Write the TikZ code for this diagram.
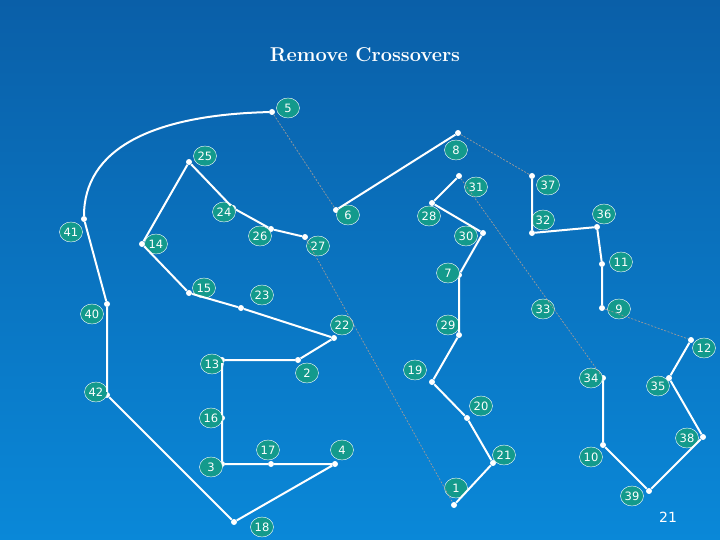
\documentclass[tikz,border=0pt]{standalone}
\usepackage{fontspec}
\setsansfont{DejaVu Sans}
\usetikzlibrary{shapes.geometric}
\definecolor{bgtop}{HTML}{0A5FA8}
\definecolor{bgbot}{HTML}{0A88D8}
\definecolor{lab}{HTML}{139A8C}
\begin{document}
\begin{tikzpicture}[x=1pt,y=-1pt,
  pt/.style={circle,fill=white,inner sep=0pt,minimum size=6pt},
  lb/.style={ellipse,draw=white,fill=lab,text=white,inner sep=0pt,minimum width=23pt,minimum height=20pt,font=\sffamily\fontsize{11.5}{11.5}\selectfont},
  e/.style={white,line width=2pt},
  d/.style={gray!80,dashed,dash pattern=on 2pt off 1.5pt,line width=0.7pt}]
\shade[top color=bgtop,bottom color=bgbot] (0,0) rectangle (720,540);
\useasboundingbox (0,0) rectangle (720,540);
\node[font=\bfseries\fontsize{20}{20}\selectfont,text=white] (title) at (365,55) {Remove Crossovers};
\node[font=\sffamily\fontsize{14}{14}\selectfont,text=white] (pg) at (668,517) {21};
% points
\foreach \n/\x/\y in {5/272/112,8/458/133,6/336/210,25/189/162,24/233/208,26/271/229,27/305/237,
 28/432/203,31/459/176,30/483/233,7/459/275,29/459/335,19/432/382,20/467/418,21/493/463,1/454/505,
 37/532/176,32/532/233,36/597/227,11/602/264,9/602/308,12/691/340,35/669/378,38/703/437,39/649/491,
 10/603/445,34/603/378,41/84/219,14/142/244,15/189/293,23/241/308,22/334/338,2/298/360,13/222/360,
 16/222/418,3/222/464,17/271/464,4/335/464,18/234/522,40/107/304,42/107/395}
 \node[pt] (p\n) at (\x,\y) {};
% labels
\foreach \n/\x/\y in {5/288/108,8/456/150,6/348/215,25/205/156,24/224/212,26/260/236,27/318/246,
 28/429/216,31/476/187,30/466/236,7/448/273,29/448/325,19/415/370,20/481/406,21/504/455,1/456/488,
 37/548/185,32/543/220,36/604/214,11/621/262,9/619/309,12/704/348,35/658/386,38/687/438,39/632/496,
 10/591/457,34/591/378,33/543/309,41/71/232,14/156/244,15/204/288,23/262/295,22/342/325,2/307/373,
 13/212/364,16/211/418,3/211/467,17/268/450,4/342/450,18/262/527,40/92/314,42/96/392}
 \node[lb] (l\n) at (\x,\y) {\n};
% dashed crossovers
\draw[d] (p5) -- (p6);
\draw[d] (p27) -- (p1);
\draw[d] (p8) -- (p37);
\draw[d] (p31) -- (p34);
\draw[d] (p9) -- (p12);
% tour
\draw[e] (p5) .. controls (150,115) and (84,150) .. (p41);
\draw[e] (p41) -- (p40) -- (p42) -- (p18) -- (p4) -- (p17) -- (p3) -- (p16) -- (p13) -- (p2) -- (p22) -- (p23) -- (p15) -- (p14) -- (p25) -- (p24) -- (p26) -- (p27);
\draw[e] (p6) -- (p8);
\draw[e] (p31) -- (p28) -- (p30) -- (p7) -- (p29) -- (p19) -- (p20) -- (p21) -- (p1);
\draw[e] (p37) -- (p32) -- (p36) -- (p11) -- (p9);
\draw[e] (p12) -- (p35) -- (p38) -- (p39) -- (p10) -- (p34);
\end{tikzpicture}
\end{document}
